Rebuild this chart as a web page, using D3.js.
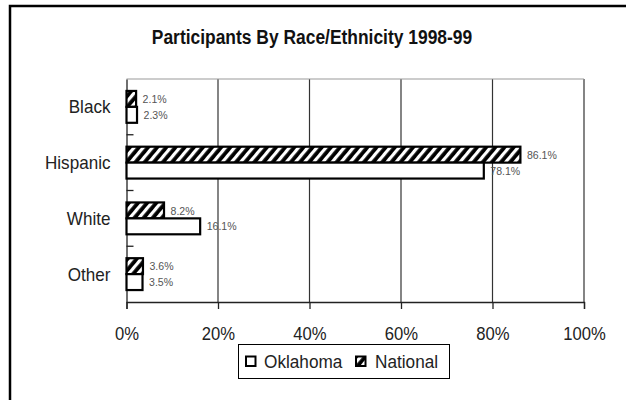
<!DOCTYPE html>
<html><head><meta charset="utf-8">
<script src="https://cdn.jsdelivr.net/npm/d3@7"></script>
<style>
body{margin:0;background:#fff;}
svg{display:block;}
text{font-family:"Liberation Sans",Arial,sans-serif;}
</style></head>
<body>
<svg id="chart" width="626" height="400"></svg>
<script>
const title = "Participants By Race/Ethnicity 1998-99";
const categories = ["Black", "Hispanic", "White", "Other"];
const seriesNames = ["National", "Oklahoma"];
const nationalValues = [2.1, 86.1, 8.2, 3.6];
const oklahomaValues = [2.3, 78.1, 16.1, 3.5];
const xTicks = [0, 20, 40, 60, 80, 100];
const legendOrder = ["Oklahoma", "National"];

(function(){
const FONT = '"Liberation Sans",Arial,sans-serif';
// horizontally condense text (narrow-font look)
function squeeze(sel, sx){
  sel.each(function(){
    const t = d3.select(this);
    const xx = +t.attr("x") || 0, yy = +t.attr("y") || 0;
    t.attr("x",0).attr("y",0).attr("transform",`translate(${xx},${yy}) scale(${sx},1)`);
  });
}
const svg = d3.select("#chart");
const defs = svg.append("defs");
const pat = defs.append("pattern").attr("id","hatch")
  .attr("patternUnits","userSpaceOnUse").attr("width",7).attr("height",7)
  .attr("patternTransform","rotate(40)");
pat.append("rect").attr("width",7).attr("height",7).attr("fill","#000");
pat.append("rect").attr("x",0).attr("width",3.2).attr("height",7).attr("fill","#fff");

// outer border
svg.append("rect").attr("x",10).attr("y",6).attr("width",640).attr("height",420)
  .attr("fill","none").attr("stroke","#000").attr("stroke-width",2.5);

svg.append("text").attr("x",312).attr("y",44).attr("text-anchor","middle")
  .attr("font-size",21).attr("font-weight","bold").attr("fill","#111").text(title)
  .call(squeeze,0.83);

const pL=126.5, pR=584, pT=79, pB=302;
const x = d3.scaleLinear().domain([0,100]).range([pL,pR]);
const y = d3.scaleBand().domain(categories).range([pT,pB]).padding(0);
const sub = d3.scaleBand().domain(seriesNames)
  .range([0,y.bandwidth()]).paddingOuter(0.75).paddingInner(0);

// gridlines
svg.append("g").selectAll("line").data(xTicks.slice(1)).join("line")
  .attr("x1",d=>x(d)).attr("x2",d=>x(d)).attr("y1",pT).attr("y2",pB)
  .attr("stroke","#333").attr("stroke-width",1.2);
svg.append("line").attr("x1",pL).attr("x2",pR).attr("y1",pT).attr("y2",pT)
  .attr("stroke","#999").attr("stroke-width",1);

// x axis
const xAxis = d3.axisBottom(x).tickValues(xTicks).tickFormat(d=>d+"%").tickSize(7).tickPadding(12);
const gx = svg.append("g").attr("transform",`translate(0,${pB})`).call(xAxis);
gx.select(".domain").attr("stroke","#222").attr("stroke-width",1.3);
gx.selectAll(".tick line").attr("stroke","#222").attr("stroke-width",1.3);
gx.selectAll(".tick text").attr("font-size",18.5).attr("fill","#222")
  .attr("font-family",FONT).attr("dy",null).attr("y",38).call(squeeze,0.9);

// y axis
const yAxis = d3.axisLeft(y).tickSize(0).tickPadding(16);
const gy = svg.append("g").attr("transform",`translate(${pL},0)`).call(yAxis);
gy.select(".domain").attr("stroke","#222").attr("stroke-width",1.3);
gy.selectAll(".tick text").attr("font-size",18).attr("fill","#222")
  .attr("font-family",FONT).attr("dy","0.36em").call(squeeze,0.95);
// inner category boundary ticks
svg.append("g").selectAll("line").data(categories.slice(1)).join("line")
  .attr("x1",pL).attr("x2",pL+7).attr("y1",d=>y(d)).attr("y2",d=>y(d))
  .attr("stroke","#222").attr("stroke-width",1.3);

const rows = categories.map((c,i)=>({cat:c, National:nationalValues[i], Oklahoma:oklahomaValues[i]}));
const bars = [];
rows.forEach(r=>seriesNames.forEach(s=>bars.push({cat:r.cat, s, v:r[s]})));

svg.append("g").selectAll("rect").data(bars).join("rect")
  .attr("x",x(0)).attr("y",d=>y(d.cat)+sub(d.s))
  .attr("width",d=>x(d.v)-x(0)).attr("height",sub.bandwidth())
  .attr("fill",d=>d.s==="National"?"url(#hatch)":"#fff")
  .attr("stroke","#000").attr("stroke-width",2.2);

svg.append("g").selectAll("text").data(bars).join("text")
  .attr("x",d=>x(d.v)+6.5).attr("y",d=>y(d.cat)+sub(d.s)+sub.bandwidth()/2)
  .attr("dy","0.36em").attr("font-size",11.5).attr("fill","#555")
  .text(d=>d.v.toFixed(1)+"%").call(squeeze,0.92);

// legend
const lg = svg.append("g");
lg.append("rect").attr("x",238.5).attr("y",344.5).attr("width",211).attr("height",34)
  .attr("fill","#fff").attr("stroke","#000").attr("stroke-width",1);
const legX = {Oklahoma:[246,264], National:[356,375]};
legendOrder.forEach(s=>{
  lg.append("rect").attr("x",legX[s][0]).attr("y",356.5).attr("width",9.5).attr("height",9.5)
    .attr("fill",s==="National"?"url(#hatch)":"#fff").attr("stroke","#000").attr("stroke-width",2);
  lg.append("text").attr("x",legX[s][1]).attr("y",361.5).attr("dy","0.36em")
    .attr("font-size",18.5).attr("fill","#222").text(s).call(squeeze,0.93);
});
})();
</script>
</body></html>
